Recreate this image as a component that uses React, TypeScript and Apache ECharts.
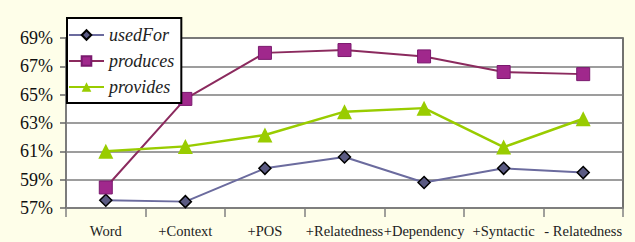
import React, { useEffect, useRef } from "react";
import * as echarts from "echarts";

const categories = ["Word", "+Context", "+POS", "+Relatedness", "+Dependency", "+Syntactic", "- Relatedness"];
const usedFor = [57.55, 57.45, 59.8, 60.6, 58.8, 59.8, 59.5];
const produces = [58.45, 64.7, 67.95, 68.15, 67.7, 66.6, 66.45];
const provides = [61.0, 61.35, 62.15, 63.8, 64.05, 61.3, 63.3];
const yTicks = [57, 59, 61, 63, 65, 67, 69];

export default function App() {
  const ref = useRef<HTMLDivElement>(null);
  useEffect(() => {
    document.body.style.margin = "0";
    const chart = echarts.init(ref.current!, null, { renderer: "svg" });
    const serif = "'Liberation Serif', 'Times New Roman', serif";
    chart.setOption({
      animation: false,
      backgroundColor: "#fefee9",
      grid: {
        left: 66,
        right: 12,
        top: 38,
        bottom: 34,
        show: true,
        backgroundColor: "#ffffff",
        borderColor: "#444",
        borderWidth: 1.5,
      },
      legend: {
        orient: "vertical",
        left: 67,
        top: 18,
        padding: [8, 7, 7, 1],
        itemGap: 8,
        itemWidth: 35,
        itemHeight: 12,
        backgroundColor: "#ffffff",
        borderColor: "#000000",
        borderWidth: 2,
        borderRadius: 0,
        textStyle: { fontFamily: serif, fontStyle: "italic", fontSize: 18, color: "#222" },
        data: ["usedFor", "produces", "provides"],
      },
      xAxis: {
        type: "category",
        data: categories,
        boundaryGap: true,
        axisLine: { lineStyle: { color: "#808080", width: 1.5 } },
        axisTick: { show: true, length: 9, lineStyle: { color: "#808080", width: 1.5 } },
        axisLabel: { interval: 0, fontFamily: serif, fontSize: 14.5, color: "#222", margin: 15, hideOverlap: false },
        splitLine: { show: false },
      },
      yAxis: {
        type: "value",
        min: 57,
        max: 69,
        axisLine: { show: true, lineStyle: { color: "#808080", width: 1.5 } },
        axisTick: { show: true, length: 6, customValues: yTicks, lineStyle: { color: "#666", width: 1.5 } },
        axisLabel: {
          customValues: yTicks,
          formatter: (v: number) => `${v}%`,
          fontFamily: serif,
          fontSize: 18,
          color: "#111",
          margin: 13,
        },
        splitLine: { show: true, lineStyle: { color: "#7c7c7c", width: 1.5 } },
      },
      series: [
        {
          name: "usedFor",
          type: "line",
          data: usedFor,
          symbol: "diamond",
          symbolSize: 12,
          lineStyle: { color: "#6b6b9e", width: 2 },
          itemStyle: { color: "#5a5a82", borderColor: "#000", borderWidth: 1.5 },
          z: 3,
        },
        {
          name: "produces",
          type: "line",
          data: produces,
          symbol: "rect",
          symbolSize: 13,
          lineStyle: { color: "#8b2a5e", width: 2 },
          itemStyle: { color: "#a0288c", borderColor: "#7a1a6e", borderWidth: 1 },
          z: 3,
        },
        {
          name: "provides",
          type: "line",
          data: provides,
          symbol: "triangle",
          symbolSize: 15,
          lineStyle: { color: "#99cc00", width: 2.5 },
          itemStyle: { color: "#99cc00" },
          z: 3,
        },
      ],
    });
    return () => chart.dispose();
  }, []);
  return <div ref={ref} style={{ width: 635, height: 242, position: "absolute", left: 0, top: 0 }} />;
}
